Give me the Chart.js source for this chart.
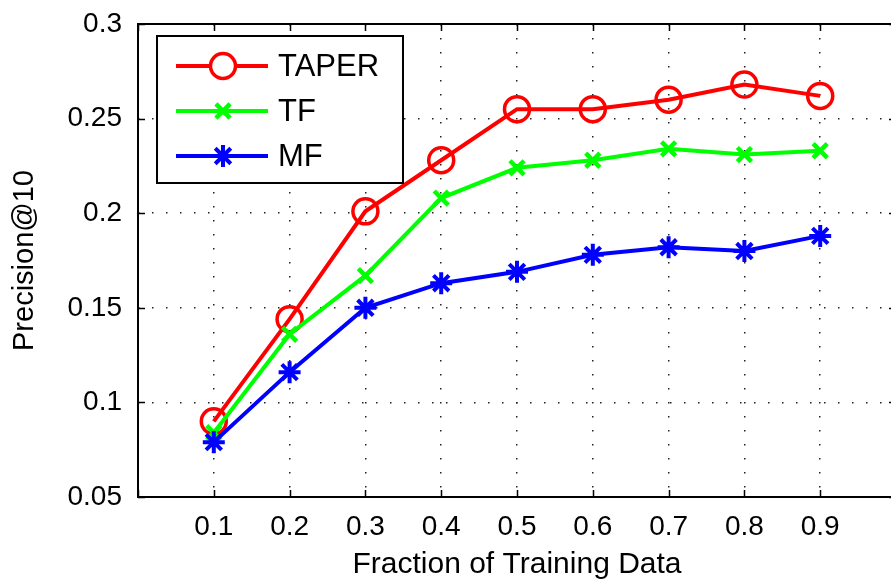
<!doctype html>
<html lang="en">
<head>
  <meta charset="utf-8">
  <title>Precision@10 vs Fraction of Training Data</title>
  <script src="https://cdn.jsdelivr.net/npm/chart.js@4.4.1/dist/chart.umd.min.js"></script>
  <style>
    html, body { margin: 0; padding: 0; background: #fff; overflow: hidden; }
    #wrap { width: 900px; height: 583px; }
  </style>
</head>
<body>
  <div id="wrap"><canvas id="precChart" width="900" height="583"></canvas></div>
<script>
// fraction of training data used
const fractions = [0.1, 0.2, 0.3, 0.4, 0.5, 0.6, 0.7, 0.8, 0.9];
// precision@10 for each method
const taper = [0.090, 0.144, 0.201, 0.228, 0.255, 0.255, 0.260, 0.268, 0.262];
const tf    = [0.084, 0.136, 0.167, 0.208, 0.224, 0.228, 0.234, 0.231, 0.233];
const mf    = [0.079, 0.116, 0.150, 0.163, 0.169, 0.178, 0.182, 0.180, 0.188];
const legendNames = ['TAPER', 'TF', 'MF'];

const FONT = '"Liberation Sans", Arial, Helvetica, sans-serif';

function pts(vals) {
  return vals.map(function (v, i) { return { x: fractions[i], y: v }; });
}

const series = [
  { label: legendNames[0], data: pts(taper), color: '#ff0000', style: 'circle', radius: 12.5, pw: 3.5, order: 2 },
  { label: legendNames[1], data: pts(tf), color: '#00ff00', style: 'crossRot', radius: 10, pw: 4.5, order: 1 },
  { label: legendNames[2], data: pts(mf), color: '#0000ff', style: 'star', radius: 11, pw: 4, order: 0 }
];

// box around the plot, inward ticks and the legend panel
const framePlugin = {
  id: 'frame',
  afterDatasetsDraw(chart) {
    const ctx = chart.ctx;
    const a = chart.chartArea;
    const xs = chart.scales.x, ys = chart.scales.y;
    ctx.save();
    ctx.strokeStyle = '#000';
    ctx.lineWidth = 2;
    ctx.strokeRect(a.left, a.top, a.right - a.left, a.bottom - a.top);
    ctx.lineWidth = 1.5;
    ctx.beginPath();
    xs.ticks.forEach(function (t) {
      const px = Math.round(xs.getPixelForValue(t.value)) + 0.5;
      ctx.moveTo(px, a.bottom); ctx.lineTo(px, a.bottom - 7);
      ctx.moveTo(px, a.top); ctx.lineTo(px, a.top + 7);
    });
    ys.ticks.forEach(function (t) {
      const py = Math.round(ys.getPixelForValue(t.value)) + 0.5;
      ctx.moveTo(a.left, py); ctx.lineTo(a.left + 7, py);
      ctx.moveTo(a.right, py); ctx.lineTo(a.right - 7, py);
    });
    ctx.stroke();

    // legend
    const bx = 157, by = 36, bw = 246, bh = 147;
    ctx.fillStyle = '#fff';
    ctx.fillRect(bx, by, bw, bh);
    ctx.lineWidth = 2;
    ctx.strokeStyle = '#000';
    ctx.strokeRect(bx, by, bw, bh);
    ctx.font = '31px ' + FONT;
    ctx.textBaseline = 'middle';
    series.forEach(function (s, i) {
      const y = by + 30 + i * 45;
      ctx.strokeStyle = s.color;
      ctx.lineWidth = 4;
      ctx.beginPath();
      ctx.moveTo(176, y); ctx.lineTo(268, y);
      ctx.stroke();
      ctx.lineWidth = s.pw;
      Chart.helpers.drawPoint(ctx, { pointStyle: s.style, radius: s.radius, borderWidth: s.pw, rotation: 0 }, 223, y);
      ctx.fillStyle = '#000';
      ctx.fillText(s.label, 278, y + 1);
    });
    ctx.restore();
  }
};

new Chart(document.getElementById('precChart'), {
  type: 'line',
  data: {
    datasets: series.map(function (s) {
      return {
        label: s.label,
        data: s.data,
        order: s.order,
        borderColor: s.color,
        backgroundColor: 'rgba(0,0,0,0)',
        borderWidth: 4,
        pointStyle: s.style,
        pointRadius: s.radius,
        pointHoverRadius: s.radius,
        pointBorderWidth: s.pw,
        pointBorderColor: s.color,
        pointBackgroundColor: 'rgba(0,0,0,0)',
        tension: 0
      };
    })
  },
  options: {
    responsive: false,
    animation: false,
    devicePixelRatio: 1,
    layout: { autoPadding: false, padding: { top: 24, right: 4, left: 0, bottom: 0 } },
    plugins: { legend: { display: false }, tooltip: { enabled: false } },
    scales: {
      x: {
        type: 'linear',
        min: 0,
        max: 1,
        afterFit: function (scale) {
          scale.height = 86;
          scale.paddingLeft = 0;
          scale.paddingRight = 0;
        },
        ticks: {
          stepSize: 0.1,
          padding: 13,
          color: '#000',
          font: { family: FONT, size: 28 },
          maxRotation: 0,
          callback: function (v) {
            const r = Math.round(v * 10) / 10;
            return (r <= 0 || r >= 1) ? '' : String(r);
          }
        },
        grid: { color: '#222', lineWidth: 1.5, drawTicks: false },
        border: { display: false, dash: [1.5, 12.5] },
        title: {
          display: true,
          text: 'Fraction of Training Data',
          color: '#000',
          font: { family: FONT, size: 30 },
          padding: { top: 2, bottom: 0 }
        }
      },
      y: {
        min: 0.05,
        max: 0.3,
        afterFit: function (scale) {
          scale.width = 138;
          scale.paddingTop = 0;
          scale.paddingBottom = 0;
        },
        ticks: {
          stepSize: 0.05,
          padding: 16,
          color: '#000',
          font: { family: FONT, size: 28 },
          callback: function (v) { return String(Math.round(v * 100) / 100); }
        },
        grid: { color: '#222', lineWidth: 1.5, drawTicks: false },
        border: { display: false, dash: [1.5, 12.5] },
        title: {
          display: true,
          text: 'Precision@10',
          color: '#000',
          font: { family: FONT, size: 29 },
          padding: { top: 8, bottom: 0 }
        }
      }
    }
  },
  plugins: [framePlugin]
});
</script>
</body>
</html>
